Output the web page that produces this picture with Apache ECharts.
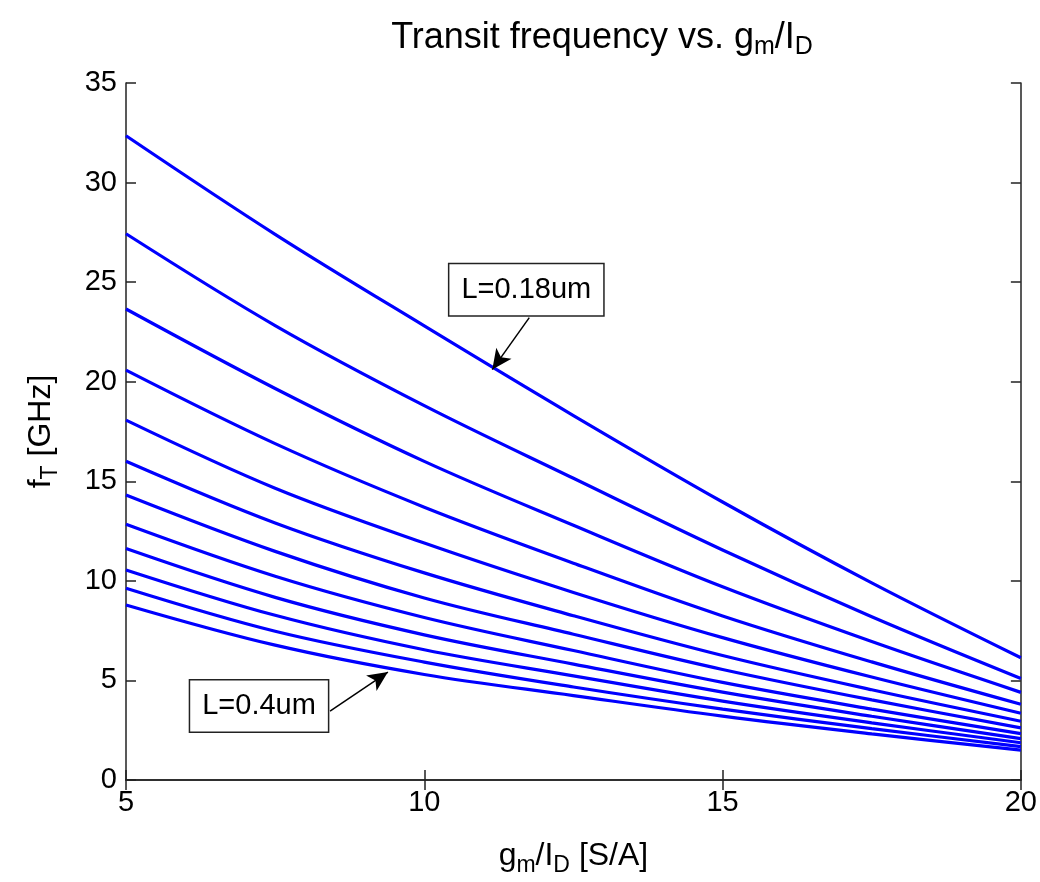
<!DOCTYPE html>
<html>
<head>
<meta charset="utf-8">
<script src="https://cdn.jsdelivr.net/npm/echarts@6/dist/echarts.min.js"></script>
<style>html,body{margin:0;padding:0;background:#fff}#c{width:1040px;height:882px}</style>
</head>
<body>
<div id="c"></div>
<script>
// gm/ID values (S/A)
const gmId = [5, 7.5, 10, 12.5, 15, 17.5, 20];
// fT (GHz) curves, from L=0.18um (top) to L=0.4um (bottom)
const fT_1  = [32.35, 27.4, 22.8, 18.3, 13.96, 9.9, 6.14];
const fT_2  = [27.43, 22.82, 18.8, 15.15, 11.55, 8.2, 5.10];
const fT_3  = [23.65, 19.66, 16.0, 12.79, 9.70, 6.95, 4.40];
const fT_4  = [20.58, 16.89, 13.7, 10.89, 8.24, 5.93, 3.80];
const fT_5  = [18.07, 14.65, 11.9, 9.42, 7.15, 5.17, 3.35];
const fT_6  = [16.01, 12.91, 10.4, 8.25, 6.25, 4.53, 2.95];
const fT_7  = [14.31, 11.48, 9.14, 7.32, 5.55, 4.02, 2.62];
const fT_8  = [12.84, 10.23, 8.16, 6.50, 4.90, 3.56, 2.33];
const fT_9  = [11.62, 9.17, 7.29, 5.82, 4.41, 3.20, 2.08];
const fT_10 = [10.55, 8.27, 6.54, 5.23, 3.96, 2.87, 1.87];
const fT_11 = [9.63, 7.47, 5.92, 4.67, 3.56, 2.58, 1.68];
const fT_12 = [8.79, 6.77, 5.30, 4.24, 3.21, 2.32, 1.50];
const curves = [fT_1, fT_2, fT_3, fT_4, fT_5, fT_6, fT_7, fT_8, fT_9, fT_10, fT_11, fT_12];

const xTicks = [5, 10, 15, 20];
const yTicks = [0, 5, 10, 15, 20, 25, 30, 35];

// annotations (data coordinates): label centre, arrow start, arrow tip
const annoTop = {text: 'L=0.18um', lx: 11.71, ly: 24.62, fx: 11.76, fy: 23.22, tx: 11.14, ty: 20.61};
const annoBot = {text: 'L=0.4um', lx: 7.23, ly: 3.71, fx: 8.42, fy: 3.46, tx: 9.39, ty: 5.42};

const FONT = '"Liberation Sans", Arial, Helvetica, sans-serif';
const chart = echarts.init(document.getElementById('c'), null, {renderer: 'canvas'});

function axisCommon(extra) {
  return Object.assign({
    type: 'value',
    axisLine: {show: true, lineStyle: {color: '#222', width: 1.5}},
    axisTick: {show: true, inside: true, length: 10, lineStyle: {color: '#222', width: 1.5}},
    splitLine: {show: false},
    axisLabel: {color: '#000', fontSize: 29, fontFamily: FONT}
  }, extra);
}

const series = curves.map((c) => ({
  type: 'line',
  data: gmId.map((x, j) => [x, c[j]]),
  smooth: 0.35,
  showSymbol: false,
  symbol: 'none',
  lineStyle: {color: '#0000ff', width: 3.2},
  itemStyle: {color: '#0000ff'},
  silent: true,
  z: 2
}));

function annoSeries(a) {
  return {
    type: 'line',
    data: [],
    silent: true,
    z: 5,
    markPoint: {
      symbol: 'rect',
      symbolSize: 0,
      data: [{coord: [a.lx, a.ly], value: a.text}],
      label: {
        show: true,
        formatter: a.text,
        color: '#000',
        fontSize: 29,
        fontFamily: FONT,
        backgroundColor: '#fff',
        borderColor: '#222',
        borderWidth: 1.5,
        padding: [12, 12, 10, 12],
        position: 'inside'
      }
    },
    markLine: {
      silent: true,
      symbol: ['none', 'arrow'],
      symbolSize: [14, 20],
      label: {show: false},
      lineStyle: {color: '#000', width: 1.5, type: 'solid'},
      data: [[{coord: [a.fx, a.fy]}, {coord: [a.tx, a.ty]}]]
    }
  };
}
series.push(annoSeries(annoTop));
series.push(annoSeries(annoBot));

const subRich = (fs) => ({sub: {fontSize: fs, fontFamily: FONT, color: '#000', padding: [18, 0, 0, 0]}});

const option = {
  animation: false,
  backgroundColor: '#fff',
  title: {
    text: 'Transit frequency vs. g{sub|m}/I{sub|D}',
    left: 597,
    textAlign: 'center',
    top: 12,
    textStyle: {
      color: '#000', fontSize: 36, fontWeight: 'normal', fontFamily: FONT,
      rich: subRich(25)
    }
  },
  grid: {left: 126, right: 18, top: 83, bottom: 101, containLabel: false},
  xAxis: [
    axisCommon({
      min: 5, max: 20, interval: 5, position: 'bottom',
      axisLabel: {color: '#000', fontSize: 29, fontFamily: FONT, margin: 8,
        formatter: v => xTicks.includes(v) ? String(v) : ''},
      name: 'g{sub|m}/I{sub|D} [S/A]',
      nameLocation: 'middle',
      nameGap: 56,
      nameTextStyle: {color: '#000', fontSize: 32, fontFamily: FONT, rich: subRich(23)}
    }),
    axisCommon({min: 5, max: 20, interval: 5, position: 'top', axisLabel: {show: false}})
  ],
  yAxis: [
    axisCommon({
      min: 0, max: 35, interval: 5, position: 'left',
      axisLabel: {color: '#000', fontSize: 29, fontFamily: FONT, margin: 9,
        formatter: v => yTicks.includes(v) ? String(v) : ''},
      name: 'f{sub|T} [GHz]',
      nameLocation: 'middle',
      nameRotate: 90,
      nameGap: 64,
      nameTextStyle: {color: '#000', fontSize: 32, fontFamily: FONT, rich: subRich(23)}
    }),
    axisCommon({min: 0, max: 35, interval: 5, position: 'right', axisLabel: {show: false}})
  ],
  series: series
};
chart.setOption(option);
</script>
</body>
</html>
